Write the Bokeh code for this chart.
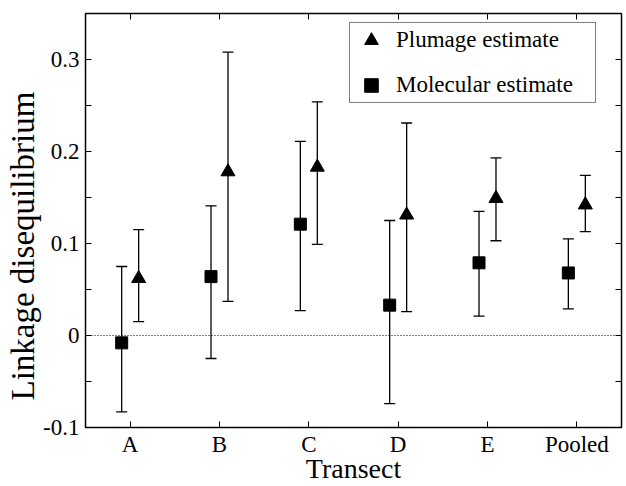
import numpy as np
from bokeh.plotting import figure
from bokeh.models import (ColumnDataSource, Whisker, TeeHead, FixedTicker, LinearAxis,
                          Span, Legend, LegendItem, Range1d, CustomJSTickFormatter, Title)
from bokeh.embed import file_html
from bokeh.resources import INLINE

categories = ["A", "B", "C", "D", "E", "Pooled"]
molecular = [-0.008, 0.064, 0.121, 0.033, 0.079, 0.068]
molecular_lo = [-0.083, -0.025, 0.027, -0.074, 0.021, 0.029]
molecular_hi = [0.075, 0.141, 0.211, 0.125, 0.135, 0.105]
plumage = [0.062, 0.178, 0.183, 0.131, 0.149, 0.142]
plumage_lo = [0.015, 0.037, 0.099, 0.026, 0.103, 0.113]
plumage_hi = [0.115, 0.308, 0.254, 0.231, 0.193, 0.174]
ytick_values = [-0.1, 0.0, 0.1, 0.2, 0.3]
ytick_labels = ["-0.1", "0", "0.1", "0.2", "0.3"]
yminor_values = [-0.05, 0.05, 0.15, 0.25]

FONT = "Liberation Serif"
pos = np.arange(1, len(categories) + 1)
offset = 0.095

mol_src = ColumnDataSource(dict(x=pos - offset, y=molecular, lo=molecular_lo, hi=molecular_hi))
plu_src = ColumnDataSource(dict(x=pos + offset, y=plumage, lo=plumage_lo, hi=plumage_hi))

p = figure(width=626, height=486, output_backend="svg", toolbar_location=None,
           x_range=Range1d(0.5, len(categories) + 0.5), y_range=Range1d(-0.1, 0.35),
           min_border_left=85, min_border_right=5, min_border_top=13, min_border_bottom=0)
p.xgrid.visible = False
p.ygrid.visible = False
p.outline_line_color = "black"
p.outline_line_width = 1.5
p.background_fill_color = "white"
p.border_fill_color = "white"

xt = FixedTicker(ticks=list(pos))
yt = FixedTicker(ticks=ytick_values, minor_ticks=yminor_values)

for ax in p.xaxis:
    ax.ticker = xt
    ax.major_label_overrides = {int(k): c for k, c in zip(pos, categories)}
    ax.axis_label = "Transect"
for ax in p.yaxis:
    ax.ticker = yt
    ax.major_label_overrides = dict(zip(ytick_values, ytick_labels))

for ax in list(p.xaxis) + list(p.yaxis):
    ax.axis_line_color = None
    ax.major_tick_in = 6
    ax.major_tick_out = 0
    ax.minor_tick_in = 6
    ax.minor_tick_out = 0
    ax.major_tick_line_color = "black"
    ax.minor_tick_line_color = "black"
    ax.major_label_text_font = FONT
    ax.major_label_text_font_size = "23px"
    ax.major_label_text_color = "black"
    ax.axis_label_text_font = FONT
    ax.axis_label_text_font_style = "normal"
    ax.axis_label_text_color = "black"
for ax in p.xaxis:
    ax.minor_tick_line_color = None
    ax.major_label_standoff = 4
    ax.axis_label_standoff = -7
    ax.axis_label_text_font_size = "28px"
for ax in p.yaxis:
    ax.major_label_standoff = 6

ytitle = Title(text="Linkage disequilibrium", align="left", offset=27, standoff=0,
               text_font=FONT, text_font_size="33px", text_font_style="normal",
               text_color="black")
p.add_layout(ytitle, "left")

blank = CustomJSTickFormatter(code="return ''")
top = LinearAxis(ticker=xt, formatter=blank, major_tick_in=6, major_tick_out=0,
                 minor_tick_line_color=None, axis_line_color=None, major_label_standoff=0)
right = LinearAxis(ticker=yt, formatter=blank, major_tick_in=6, major_tick_out=0,
                   minor_tick_in=6, minor_tick_out=0, axis_line_color=None, major_label_standoff=0)
p.add_layout(top, "above")
p.add_layout(right, "right")

p.add_layout(Span(location=0, dimension="width", line_color="black", line_width=1,
                  line_dash="1 2"))

for src in (mol_src, plu_src):
    w = Whisker(base="x", lower="lo", upper="hi", source=src, dimension="height",
                line_color="black", line_width=1.3,
                lower_head=TeeHead(size=11, line_color="black", line_width=1.3),
                upper_head=TeeHead(size=11, line_color="black", line_width=1.3))
    p.add_layout(w)

r_plu = p.scatter("x", "y", source=plu_src, marker="triangle", size=14,
                  fill_color="black", line_color="black")
r_mol = p.scatter("x", "y", source=mol_src, marker="square", size=12,
                  fill_color="black", line_color="black")

legend = Legend(items=[LegendItem(label="Plumage estimate", renderers=[r_plu]),
                       LegendItem(label="Molecular estimate", renderers=[r_mol])],
                location=(264, 324))
legend.label_text_font = FONT
legend.label_text_font_size = "23px"
legend.label_text_color = "black"
legend.border_line_color = "black"
legend.border_line_width = 1.2
legend.background_fill_alpha = 1
legend.padding = 0
legend.spacing = 11
legend.margin = 0
legend.glyph_width = 42
legend.glyph_height = 34
legend.label_height = 34
legend.label_width = 199
legend.label_standoff = 4
p.add_layout(legend)

open("out.html", "w").write(file_html(p, INLINE))
